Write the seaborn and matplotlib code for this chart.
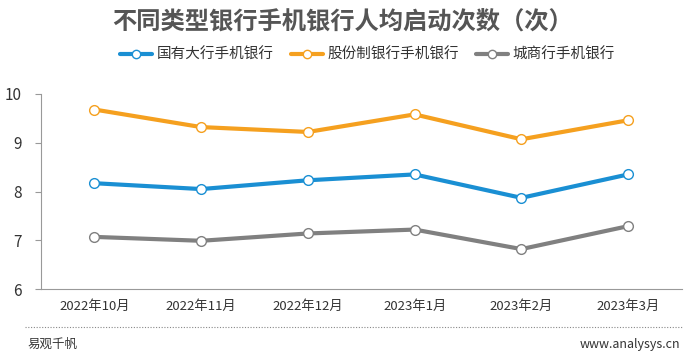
import pandas as pd
import matplotlib.pyplot as plt
import seaborn as sns
from matplotlib.lines import Line2D

months = ['2022年10月', '2022年11月', '2022年12月', '2023年1月', '2023年2月', '2023年3月']
series_names = ['国有大行手机银行', '股份制银行手机银行', '城商行手机银行']
state_banks = [8.17, 8.05, 8.23, 8.35, 7.87, 8.35]
joint_stock = [9.68, 9.32, 9.22, 9.58, 9.07, 9.46]
city_banks = [7.07, 6.99, 7.14, 7.22, 6.82, 7.29]
colors = ['#1a8fd3', '#f5a01f', '#808080']

df = pd.DataFrame({
    'month': months * 3,
    'value': state_banks + joint_stock + city_banks,
    'bank': [series_names[0]] * 6 + [series_names[1]] * 6 + [series_names[2]] * 6,
})

sns.set_style('white')
plt.rcParams['font.family'] = ['Noto Sans CJK SC', 'DejaVu Sans']

fig = plt.figure(figsize=(7, 3.53), dpi=100)
ax = fig.add_axes([0.0586, 0.181, 0.915, 0.553])

sns.lineplot(data=df, x='month', y='value', hue='bank', palette=colors,
             marker='o', markersize=7, markerfacecolor='white',
             markeredgewidth=1.0, linewidth=3, legend=False, ax=ax)
# seaborn paints marker edges white; give them the line colour
for ln in ax.lines:
    ln.set_markeredgecolor(ln.get_color())

ax.set_xlim(-0.5, 5.5)
ax.set_ylim(6, 10)
ax.set_yticks([6, 7, 8, 9, 10])
ax.set_xlabel('')
ax.set_ylabel('')
for s in ['top', 'right']:
    ax.spines[s].set_visible(False)
ax.spines['left'].set_color('#999999')
ax.spines['bottom'].set_color('#999999')
ax.tick_params(axis='y', length=4, color='#999999', labelsize=11, labelcolor='#333333', pad=10, left=True)
ax.tick_params(axis='x', length=0, labelsize=9.5, labelcolor='#333333', pad=8)

fig.text(0.49, 0.935, '不同类型银行手机银行人均启动次数（次）', ha='center', va='center',
         fontsize=17.5, fontweight='bold', color='#555555')

handles = [Line2D([0], [0], color=c, lw=3, marker='o', markersize=6,
                  markerfacecolor='white', markeredgecolor=c, markeredgewidth=1.0) for c in colors]
fig.legend(handles, series_names, loc='center', bbox_to_anchor=(0.525, 0.845),
           ncol=3, frameon=False, fontsize=10.5, handlelength=2.2, handletextpad=0.3,
           columnspacing=1.2, labelcolor='#333333')

# dotted separator above footer
fig.add_artist(Line2D([0.035, 0.975], [0.074, 0.074], transform=fig.transFigure,
                      color='#888888', linestyle=(0, (1, 1.5)), linewidth=0.8))

fig.text(0.04, 0.025, '易观千帆', ha='left', va='center', fontsize=9, color='#333333')
fig.text(0.972, 0.025, 'www.analysys.cn', ha='right', va='center', fontsize=9, color='#333333')

fig.savefig('out.png', dpi=100)
